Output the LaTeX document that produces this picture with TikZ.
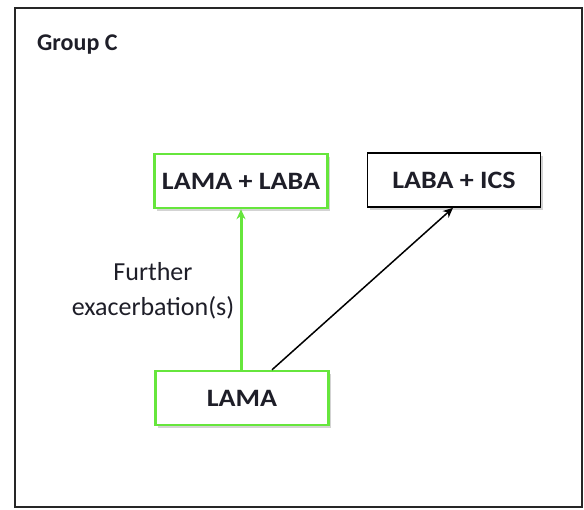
\documentclass[tikz,border=0pt]{standalone}
\usepackage{fontspec}
\setmainfont{Carlito}
\usetikzlibrary{shadows,arrows.meta}
\definecolor{boxgreen}{RGB}{102,230,60}
\definecolor{txt}{RGB}{30,30,40}
\newcommand{\wide}[1]{\scalebox{1.12}[1]{#1}}
\tikzset{
  box/.style={draw=#1, line width=2.4pt, fill=white, minimum width=173pt, minimum height=54pt,
    font=\bfseries\fontsize{25}{28}\selectfont, text=txt,
    drop shadow={shadow xshift=2pt, shadow yshift=-3pt, opacity=0.35, fill=gray}},
  conn/.style={-{Stealth[length=10pt,width=9pt]}},
}
\begin{document}
\begin{tikzpicture}[x=1pt,y=-1pt]
\useasboundingbox (0,0) rectangle (584,509);
\draw[line width=2pt, draw=black!85] (15,8) rectangle (582,507);
\node[anchor=west, inner sep=0pt, font=\bfseries\fontsize{24}{26}\selectfont, text=txt] (title) at (37,45) {Group C};
\node[box=boxgreen] (ll) at (241,181) {\wide{LAMA + LABA}};
\node[box=black, line width=1.6pt] (li) at (454,180) {\wide{LABA + ICS}};
\node[box=boxgreen] (la) at (242,398) {\wide{LAMA}};
\draw[conn, boxgreen, line width=3pt] (la.north -| ll.south) -- (ll.south);
\draw[conn, black, line width=1.5pt] ([xshift=30pt]la.north) -- ([xshift=-1pt]li.south);
\node[align=center, font=\fontsize{26}{35}\selectfont, text=txt] (lbl) at (153,291) {Further\\exacerbation(s)};
\end{tikzpicture}
\end{document}
